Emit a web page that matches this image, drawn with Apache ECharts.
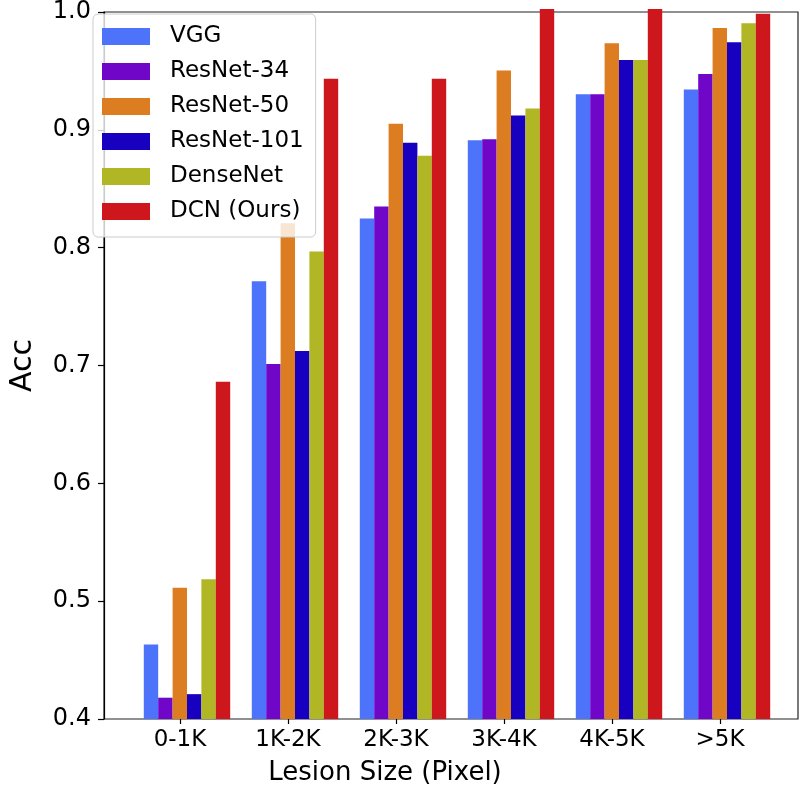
<!DOCTYPE html>
<html>
<head>
<meta charset="utf-8">
<script src="https://cdn.jsdelivr.net/npm/echarts@6/dist/echarts.min.js"></script>
<style>html,body{margin:0;padding:0;background:#fff}#c{width:800px;height:791px}</style>
</head>
<body>
<div id="c"></div>
<script>
const categories = ['0-1K', '1K-2K', '2K-3K', '3K-4K', '4K-5K', '>5K'];
const seriesNames = ['VGG', 'ResNet-34', 'ResNet-50', 'ResNet-101', 'DenseNet', 'DCN (Ours)'];
const vgg      = [0.463, 0.770, 0.823, 0.889, 0.928, 0.932];
const resnet34 = [0.418, 0.700, 0.833, 0.890, 0.928, 0.945];
const resnet50 = [0.511, 0.819, 0.903, 0.948, 0.971, 0.984];
const resnet101= [0.421, 0.711, 0.887, 0.910, 0.957, 0.972];
const densenet = [0.518, 0.795, 0.876, 0.916, 0.957, 0.988];
const dcn      = [0.685, 0.941, 0.941, 1.000, 1.000, 0.996];
const yTicks = [0.4, 0.5, 0.6, 0.7, 0.8, 0.9, 1.0];
const colors = ['#4d73fa', '#7006c8', '#dc7d22', '#1700bf', '#b0b624', '#cd171c'];
const values = [vgg, resnet34, resnet50, resnet101, densenet, dcn];

const FONT = 'DejaVu Sans';
const chart = echarts.init(document.getElementById('c'), null, {renderer: 'canvas'});
const yMin = yTicks[0], yMax = yTicks[yTicks.length - 1];

const option = {
  animation: false,
  backgroundColor: '#fff',
  textStyle: {fontFamily: FONT},
  grid: [
    {left: 88, right: 2, top: 9, bottom: 72, show: true, borderColor: '#222', borderWidth: 1.2, backgroundColor: 'transparent'},
    {left: 126, width: 648, top: 9, bottom: 72},
    {left: 133, width: 648, top: 9, bottom: 72}
  ],
  xAxis: [
    {gridIndex: 0, type: 'value', min: 0, max: 1, show: false},
    {gridIndex: 1, type: 'category', data: categories,
     axisLine: {show: false},
     axisTick: {show: true, alignWithLabel: true, length: 6, lineStyle: {color: '#000', width: 1.2}},
     axisLabel: {fontSize: 23, color: '#000', margin: 11, fontFamily: FONT},
     name: 'Lesion Size (Pixel)', nameLocation: 'middle', nameGap: 42,
     nameTextStyle: {fontSize: 26, color: '#000', fontFamily: FONT, padding: [0, 130, 0, 0]}},
    {gridIndex: 2, type: 'category', data: categories, show: false}
  ],
  yAxis: [
    {gridIndex: 0, type: 'value', min: yMin, max: yMax, interval: 0.1,
     axisLine: {show: true, lineStyle: {color: '#000', width: 1.2}},
     axisTick: {show: true, length: 6, lineStyle: {color: '#000', width: 1.2}},
     axisLabel: {fontSize: 24, color: '#000', margin: 13, fontFamily: FONT,
       formatter: v => v.toFixed(1)},
     splitLine: {show: false},
     name: 'Acc', nameLocation: 'middle', nameRotate: 90, nameGap: 66,
     nameTextStyle: {fontSize: 30, color: '#000', fontFamily: FONT}},
    {gridIndex: 1, type: 'value', min: yMin, max: yMax, show: false},
    {gridIndex: 2, type: 'value', min: yMin, max: yMax, show: false}
  ],
  legend: {
    orient: 'vertical', left: 93, top: 14,
    data: seriesNames.map(n => ({name: n, icon: 'rect'})),
    itemWidth: 48, itemHeight: 17, itemGap: 12,
    padding: [11, 12, 14, 9],
    backgroundColor: 'rgba(255,255,255,0.8)',
    borderColor: '#cccccc', borderWidth: 1, borderRadius: 5,
    textStyle: {fontSize: 23, color: '#000', fontFamily: FONT, padding: [0, 0, 0, 15]}
  },
  series: seriesNames.map((name, i) => ({
    name: name, type: 'bar', xAxisIndex: 2, yAxisIndex: 2,
    data: values[i],
    barGap: 0, barCategoryGap: '20%',
    itemStyle: {color: colors[i]},
    clip: true
  }))
};
chart.setOption(option);
</script>
</body>
</html>
